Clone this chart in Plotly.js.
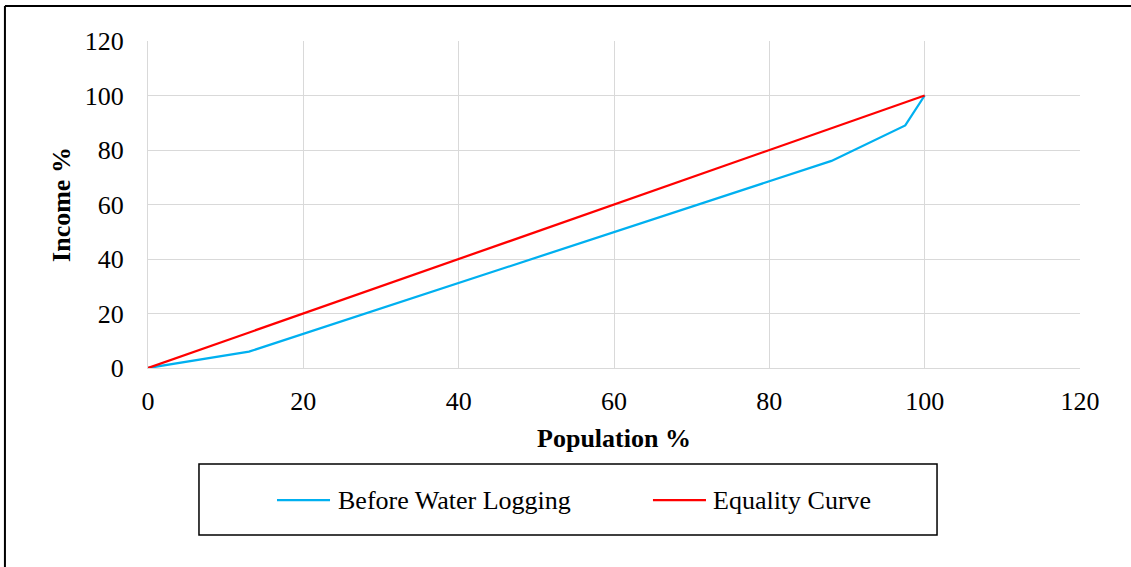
<!DOCTYPE html>
<html>
<head>
<meta charset="utf-8">
<script src="https://cdn.plot.ly/plotly-3.0.1.min.js"></script>
<style>html,body{margin:0;padding:0;background:#fff;}#chart{width:1131px;height:567px;}</style>
</head>
<body>
<div id="chart"></div>
<script>
const populationBefore = [0, 13, 88, 97.5, 100];
const incomeBefore = [0, 6, 76, 89, 100];
const populationEquality = [0, 100];
const incomeEquality = [0, 100];
const seriesNames = ["Before Water Logging", "Equality Curve"];
const seriesColors = ["#00B0F0", "#FF0000"];
const axisTicks = [0, 20, 40, 60, 80, 100, 120];

const font = "Liberation Serif, Times New Roman, serif";
const traces = [
  {x: populationBefore, y: incomeBefore, mode: "lines", name: seriesNames[0],
   line: {color: seriesColors[0], width: 2.25}, showlegend: false},
  {x: populationEquality, y: incomeEquality, mode: "lines", name: seriesNames[1],
   line: {color: seriesColors[1], width: 2.25}, showlegend: false}
];

// custom legend (box, line samples, labels) in paper coordinates
const legendY = -0.4037;
const legendItems = [
  {x0: 0.1384, x1: 0.1953, tx: 0.2017},
  {x0: 0.5418, x1: 0.5987, tx: 0.6041}
];
const shapes = [
  {type: "rect", xref: "paper", yref: "paper", x0: 0.0547, x1: 0.8466, y0: -0.5107, y1: -0.2936,
   line: {color: "#000", width: 1.5}, fillcolor: "rgba(0,0,0,0)"},
  {type: "line", xref: "paper", yref: "paper", x0: -0.1535, x1: 1.2, y0: 1.1070, y1: 1.1070,
   line: {color: "#000", width: 2}},
  {type: "line", xref: "paper", yref: "paper", x0: -0.1535, x1: -0.1535, y0: 1.1070, y1: -0.7,
   line: {color: "#000", width: 2}}
];
const annotations = [];
legendItems.forEach((it, i) => {
  shapes.push({type: "line", xref: "paper", yref: "paper", x0: it.x0, x1: it.x1, y0: legendY, y1: legendY,
    line: {color: seriesColors[i], width: 2.25}});
  annotations.push({xref: "paper", yref: "paper", x: it.tx, y: legendY, xanchor: "left", yanchor: "middle",
    text: seriesNames[i], showarrow: false, font: {family: font, size: 26, color: "#000"}});
});

const layout = {
  width: 1131, height: 567,
  margin: {l: 148, r: 51, t: 41, b: 199},
  paper_bgcolor: "#fff", plot_bgcolor: "#fff",
  font: {family: font, size: 26, color: "#000"},
  xaxis: {range: [0, 120], tickvals: axisTicks, showgrid: true, gridcolor: "#D9D9D9", gridwidth: 1,
    zeroline: false, showline: true, linecolor: "#D9D9D9", ticks: "", ticklabelstandoff: 10,
    tickfont: {family: font, size: 26},
    title: {text: "<b>Population %</b>", font: {family: font, size: 26}, standoff: 13}, automargin: false, fixedrange: true},
  yaxis: {range: [0, 120], tickvals: axisTicks, showgrid: true, gridcolor: "#D9D9D9", gridwidth: 1,
    zeroline: false, showline: true, linecolor: "#D9D9D9", ticks: "", ticklabelstandoff: 18,
    tickfont: {family: font, size: 26},
    title: {text: "<b>Income %</b>", font: {family: font, size: 26}, standoff: 6}, automargin: false, fixedrange: true},
  showlegend: false,
  shapes: shapes,
  annotations: annotations
};
Plotly.newPlot("chart", traces, layout, {staticPlot: true, displayModeBar: false});
</script>
</body>
</html>
